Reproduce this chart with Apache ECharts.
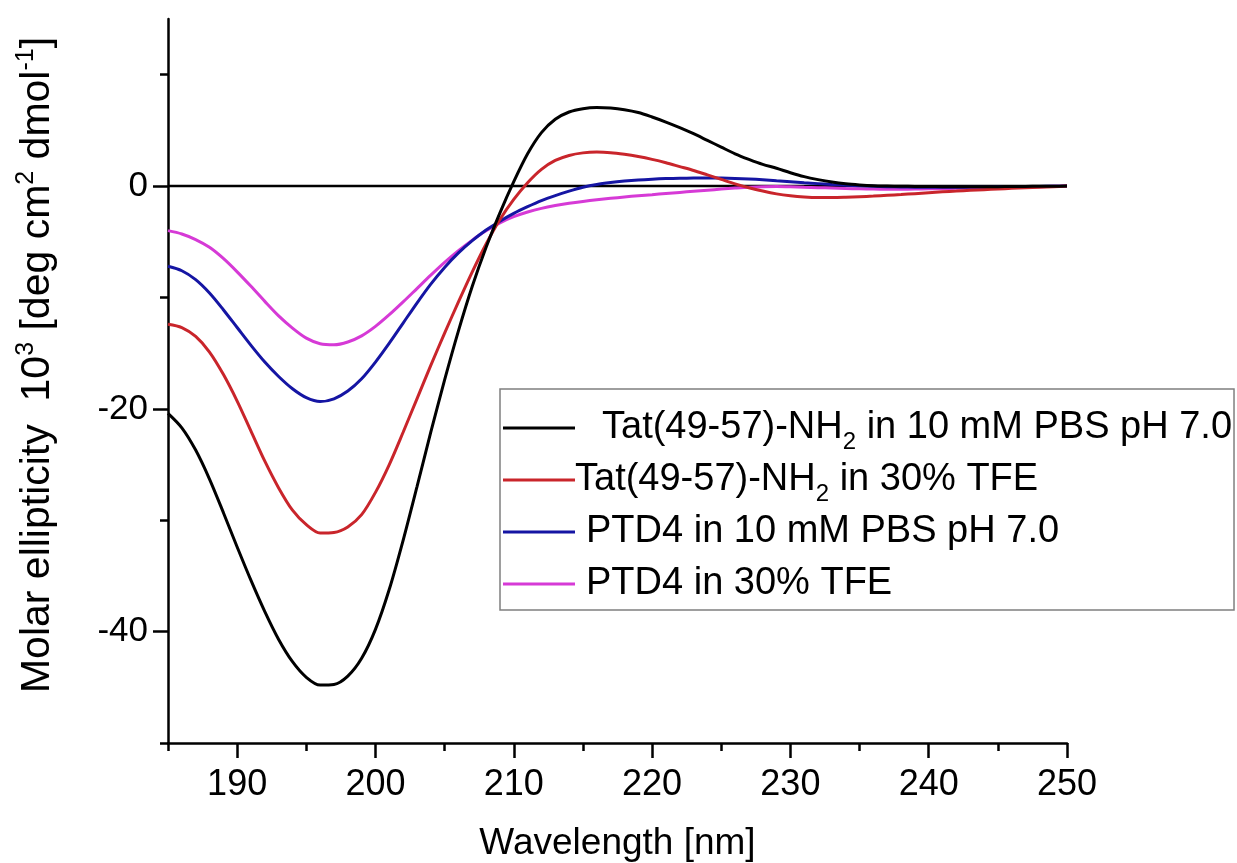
<!DOCTYPE html>
<html>
<head>
<meta charset="utf-8">
<script src="https://cdn.jsdelivr.net/npm/echarts@6/dist/echarts.min.js"></script>
<style>
  html, body { margin: 0; padding: 0; background: #ffffff; }
  #chart { width: 1237px; height: 863px; }
</style>
</head>
<body>
<div id="chart"></div>
<script>
// Wavelength (nm)
const wavelengths = [185,186,187,188,189,190,191,192,193,194,195,196,197,198,199,200,201,202,203,204,205,206,207,208,209,210,211,212,213,214,215,216,217,218,219,220,221,222,223,224,225,226,227,228,229,230,231,232,233,234,235,236,237,238,239,240,241,242,243,244,245,246,247,248,249,250];

// Molar ellipticity (10^3 deg cm^2 dmol^-1)
const tatPBS = [-20.4,-21.7,-23.7,-26.3,-29.3,-32.4,-35.4,-38.2,-40.7,-42.7,-44.1,-44.8,-44.75,-44.0,-42.4,-39.8,-36.2,-31.8,-27.0,-22.1,-17.4,-13.0,-9.0,-5.5,-2.4,0.4,2.9,4.8,6.0,6.65,6.95,7.05,7.0,6.85,6.6,6.2,5.75,5.25,4.7,4.1,3.5,2.9,2.4,1.95,1.6,1.2,0.85,0.58,0.36,0.2,0.1,0.03,0,-0.02,-0.03,-0.04,-0.05,-0.05,-0.05,-0.05,-0.05,-0.04,-0.03,-0.02,-0.01,0];
const tatTFE = [-12.4,-12.7,-13.5,-14.9,-16.9,-19.3,-22.0,-24.7,-27.1,-29.1,-30.4,-31.15,-31.1,-30.6,-29.5,-27.5,-25.0,-22.1,-19.1,-16.1,-13.2,-10.4,-7.7,-5.2,-3.0,-1.2,0.3,1.5,2.3,2.75,2.98,3.05,3.0,2.85,2.65,2.4,2.1,1.75,1.4,1.0,0.6,0.2,-0.15,-0.45,-0.7,-0.87,-0.98,-1.03,-1.03,-1.0,-0.95,-0.9,-0.83,-0.76,-0.68,-0.6,-0.52,-0.45,-0.38,-0.32,-0.26,-0.2,-0.15,-0.1,-0.05,0];
const ptd4PBS = [-7.2,-7.6,-8.4,-9.6,-11.1,-12.7,-14.3,-15.8,-17.1,-18.2,-19.0,-19.35,-19.1,-18.4,-17.3,-15.8,-14.1,-12.3,-10.5,-8.8,-7.3,-6.0,-4.9,-3.95,-3.15,-2.45,-1.85,-1.3,-0.85,-0.45,-0.1,0.15,0.32,0.45,0.55,0.62,0.67,0.7,0.72,0.73,0.72,0.69,0.64,0.57,0.48,0.39,0.3,0.22,0.14,0.08,0.03,-0.01,-0.05,-0.08,-0.1,-0.11,-0.11,-0.1,-0.09,-0.08,-0.07,-0.06,-0.04,-0.03,-0.01,0];
const ptd4TFE = [-4.0,-4.3,-4.8,-5.5,-6.5,-7.7,-9.0,-10.35,-11.65,-12.75,-13.65,-14.15,-14.25,-14.0,-13.45,-12.6,-11.55,-10.4,-9.2,-8.0,-6.85,-5.8,-4.85,-4.0,-3.3,-2.75,-2.33,-2.0,-1.75,-1.55,-1.38,-1.23,-1.1,-0.98,-0.87,-0.77,-0.67,-0.57,-0.47,-0.37,-0.27,-0.18,-0.1,-0.05,-0.04,-0.06,-0.1,-0.14,-0.18,-0.22,-0.25,-0.27,-0.28,-0.28,-0.27,-0.25,-0.23,-0.2,-0.17,-0.15,-0.12,-0.1,-0.07,-0.05,-0.02,0];

const seriesNames = ['Tat(49-57)-NH2 in 10 mM PBS pH 7.0', 'Tat(49-57)-NH2 in 30% TFE', 'PTD4 in 10 mM PBS pH 7.0', 'PTD4 in 30% TFE'];
const legendRich = {
  'Tat(49-57)-NH2 in 10 mM PBS pH 7.0': 'Tat(49-57)-NH{sub|2} in 10 mM PBS pH 7.0',
  'Tat(49-57)-NH2 in 30% TFE': 'Tat(49-57)-NH{sub|2} in 30% TFE',
  'PTD4 in 10 mM PBS pH 7.0': 'PTD4 in 10 mM PBS pH 7.0',
  'PTD4 in 30% TFE': 'PTD4 in 30% TFE'
};
const colors = ['#000000', '#c9252b', '#1515a3', '#d63ad6'];

const xMajor = [190, 200, 210, 220, 230, 240, 250];
const xMinor = [185, 195, 205, 215, 225, 235, 245];
const yMajor = [-40, -20, 0];
const yMinor = [-50, -30, -10, 10];

const FONT = 'Liberation Sans, Arial, sans-serif';

function zip(xs, ys) { return xs.map((x, i) => [x, ys[i]]); }
const allValues = [tatPBS, tatTFE, ptd4PBS, ptd4TFE];

const chart = echarts.init(document.getElementById('chart'), null, { renderer: 'canvas' });

const axisLine = { show: true, onZero: false, lineStyle: { color: '#000', width: 2.5 } };

const option = {
  backgroundColor: '#ffffff',
  animation: false,
  grid: { left: 168, right: 170, top: 19, bottom: 120, containLabel: false, outerBoundsMode: 'none' },
  legend: {
    orient: 'vertical',
    left: 500,
    top: 389,
    padding: [13, 2, 0, 3],
    itemGap: 0,
    itemWidth: 72,
    itemHeight: 3,
    icon: 'rect',
    borderColor: '#7f7f7f',
    borderWidth: 1.5,
    backgroundColor: '#ffffff',
    selectedMode: false,
    data: [
      { name: seriesNames[0], textStyle: { padding: [0, 0, 0, 22] } },
      { name: seriesNames[1], textStyle: { padding: [0, 0, 0, -5] } },
      { name: seriesNames[2], textStyle: { padding: [0, 0, 0, 6] } },
      { name: seriesNames[3], textStyle: { padding: [0, 0, 0, 6] } }
    ],
    formatter: name => legendRich[name],
    textStyle: {
      fontFamily: FONT,
      fontSize: 38,
      color: '#000',
      lineHeight: 52,
      rich: {
        sub: { fontFamily: FONT, fontSize: 24, lineHeight: 24, verticalAlign: 'bottom', color: '#000' }
      }
    }
  },
  xAxis: [
    {
      type: 'value', min: 185, max: 250,
      name: 'Wavelength [nm]', nameLocation: 'middle', nameGap: 82,
      nameTextStyle: { fontFamily: FONT, fontSize: 37, color: '#000' },
      axisLine: axisLine,
      axisTick: { show: true, inside: false, customValues: xMajor, length: 15, lineStyle: { color: '#000', width: 2.5 } },
      axisLabel: { customValues: xMajor, fontFamily: FONT, fontSize: 36, color: '#000', margin: 24 },
      splitLine: { show: false }
    },
    {
      type: 'value', min: 185, max: 250, position: 'bottom', offset: 0,
      axisLine: { show: false, onZero: false },
      axisTick: { show: true, inside: false, customValues: xMinor, length: 8, lineStyle: { color: '#000', width: 2.5 } },
      axisLabel: { show: false },
      splitLine: { show: false }
    }
  ],
  yAxis: [
    {
      type: 'value', min: -50, max: 15,
      name: 'Molar ellipticity  10{sup|3} [deg cm{sup|2} dmol{sup|-1}]',
      nameLocation: 'middle', nameGap: 106,
      nameTextStyle: {
        fontFamily: FONT, fontSize: 41, color: '#000', lineHeight: 48,
        padding: [0, 0, 0, 32],
        rich: {
          sup: { fontFamily: FONT, fontSize: 25, lineHeight: 25, verticalAlign: 'top', color: '#000' }
        }
      },
      axisLine: axisLine,
      axisTick: { show: true, inside: false, customValues: yMajor, length: 15, lineStyle: { color: '#000', width: 2.5 } },
      axisLabel: { customValues: yMajor, fontFamily: FONT, fontSize: 35, color: '#000', margin: 20 },
      splitLine: { show: false }
    },
    {
      type: 'value', min: -50, max: 15, position: 'left', offset: 0,
      axisLine: { show: false, onZero: false },
      axisTick: { show: true, inside: false, customValues: yMinor, length: 8, lineStyle: { color: '#000', width: 2.5 } },
      axisLabel: { show: false },
      splitLine: { show: false }
    }
  ],
  series: [
    {
      name: 'zero', type: 'line', xAxisIndex: 0, yAxisIndex: 0,
      data: [[185, 0], [250, 0]],
      symbol: 'none', silent: true, z: 1,
      lineStyle: { color: '#000', width: 2.5 }
    }
  ].concat(seriesNames.map((n, i) => ({
    name: n, type: 'line', xAxisIndex: 0, yAxisIndex: 0,
    data: zip(wavelengths, allValues[i]),
    smooth: 0.3, symbol: 'none', showSymbol: false, z: 2 + (3 - i),
    color: colors[i],
    lineStyle: { color: colors[i], width: 3 }
  })))
};

chart.setOption(option);
</script>
</body>
</html>
